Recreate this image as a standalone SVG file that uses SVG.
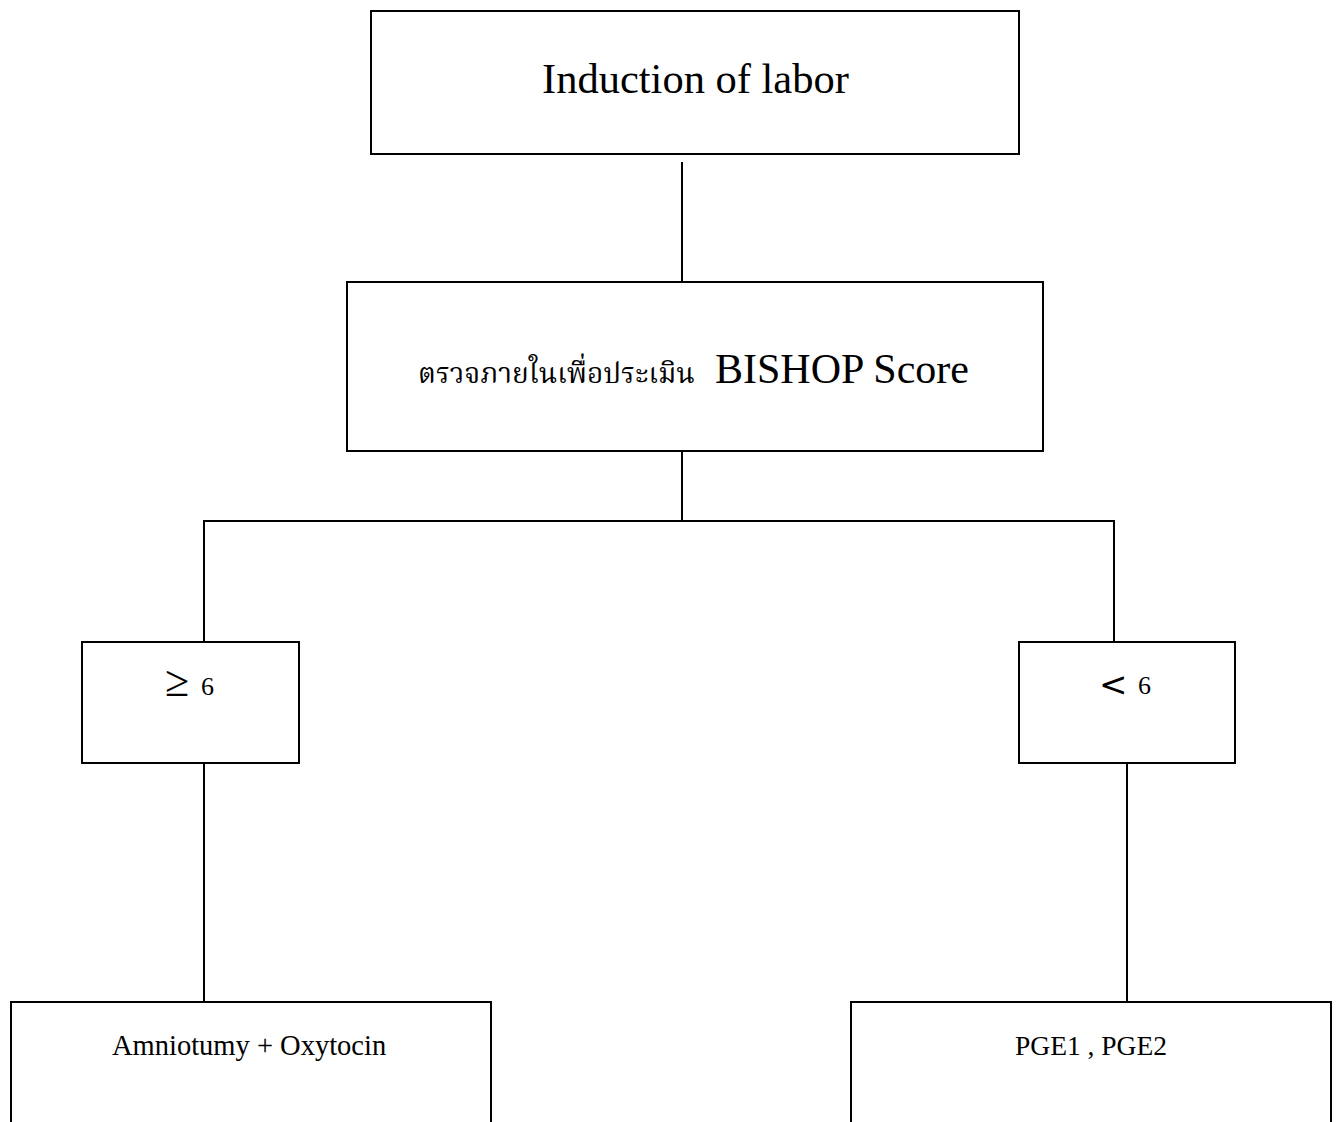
<svg xmlns="http://www.w3.org/2000/svg" width="1341" height="1122" viewBox="0 0 1341 1122">
<style>
.box{fill:#fff;stroke:#000;stroke-width:2}
.ln{stroke:#000;stroke-width:2;fill:none}
text{font-family:"Liberation Serif","Times New Roman",serif;fill:#000}
text.th{font-family:"Noto Serif Thai","Noto Sans Thai","Liberation Serif",serif}
text.sym{font-family:"DejaVu Sans",sans-serif}
</style>
<rect width="1341" height="1122" fill="#fff"/>
<g id="connectors">
<line class="ln" x1="682" y1="162" x2="682" y2="282"/>
<line class="ln" x1="682" y1="451" x2="682" y2="521"/>
<polyline class="ln" points="204,642 204,521 1114,521 1114,642"/>
<line class="ln" x1="204" y1="763" x2="204" y2="1002"/>
<line class="ln" x1="1127" y1="763" x2="1127" y2="1002"/>
</g>
<g id="n1">
<rect class="box" x="371" y="11" width="648" height="143"/>
<text x="542" y="93" font-size="42.5">Induction of labor</text>
</g>
<g id="n2">
<rect class="box" x="347" y="282" width="696" height="169"/>
<text class="th" x="418" y="383" font-size="28">ตรวจภายในเพื่อประเมิน</text>
<text x="715" y="383" font-size="42">BISHOP Score</text>
</g>
<g id="n3">
<rect class="box" x="82" y="642" width="217" height="121"/>
<text x="165" y="696" font-size="44">≥</text>
<text x="201" y="695" font-size="26">6</text>
</g>
<g id="n4">
<rect class="box" x="1019" y="642" width="216" height="121"/>
<text class="sym" x="1099" y="696" font-size="34">&lt;</text>
<text x="1138" y="694" font-size="26">6</text>
</g>
<g id="n5">
<path class="ln" d="M11,1122 V1002 H491 V1122"/>
<text x="112" y="1055" font-size="28.5">Amniotumy + Oxytocin</text>
</g>
<g id="n6">
<path class="ln" d="M851,1122 V1002 H1331 V1122"/>
<text x="1015" y="1055" font-size="27.5">PGE1 , PGE2</text>
</g>
</svg>
